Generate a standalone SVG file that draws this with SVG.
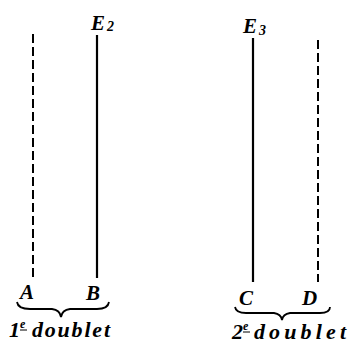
<svg xmlns="http://www.w3.org/2000/svg" width="355" height="346" viewBox="0 0 355 346">
<style>
.solid{stroke:#000;stroke-width:2.2;fill:none}
.dash{stroke:#000;stroke-width:2;fill:none;stroke-dasharray:9 4}
.brace{stroke:#000;stroke-width:1.8;fill:none}
.lbl{font-family:"Liberation Serif",serif;font-style:italic;font-weight:bold;font-size:21px;fill:#000}
.sub{font-family:"Liberation Serif",serif;font-style:italic;font-weight:bold;font-size:14px;fill:#000}
.cap{font-family:"Liberation Serif",serif;font-style:italic;font-weight:bold;font-size:22px;fill:#000}
.sup{font-family:"Liberation Serif",serif;font-style:italic;font-weight:bold;font-size:12px;fill:#000}
</style>
<rect width="355" height="346" fill="#fff"/>
<g id="lines">
<line id="A-line" class="dash" x1="33" y1="34" x2="33" y2="277"/>
<line id="B-line" class="solid" x1="97" y1="35" x2="97" y2="278"/>
<line id="C-line" class="solid" x1="253" y1="38" x2="253" y2="282"/>
<line id="D-line" class="dash" x1="318" y1="40" x2="318" y2="282"/>
</g>
<g id="E2"><text class="lbl" x="91" y="30">E</text><text class="sub" x="107" y="31">2</text></g>
<g id="E3"><text class="lbl" x="243" y="33">E</text><text class="sub" x="259" y="35">3</text></g>
<g id="A"><text class="lbl" x="20" y="299">A</text></g>
<g id="B"><text class="lbl" x="86" y="300">B</text></g>
<g id="C"><text class="lbl" x="239" y="305">C</text></g>
<g id="D"><text class="lbl" x="302" y="305">D</text></g>
<g id="doublet1">
<path class="brace" d="M17 302 Q18 309 30 309 L52 309 Q60 310 61 317 Q62 310 70 309 L97 309 Q108 309 109 302"/>
<text class="cap" x="9" y="337">1</text>
<text class="sup" x="20" y="328">e</text>
<line x1="20" y1="330" x2="27" y2="330" stroke="#000" stroke-width="1"/>
<text class="cap" x="32" y="337" textLength="78" lengthAdjust="spacing">doublet</text>
</g>
<g id="doublet2">
<path class="brace" d="M235 307 Q236 313 246 313 L274 313 Q281 314 282 320 Q283 314 290 313 L320 313 Q330 313 330 307"/>
<text class="cap" x="232" y="339">2</text>
<text class="sup" x="243" y="330">e</text>
<line x1="243" y1="332" x2="250" y2="332" stroke="#000" stroke-width="1"/>
<text class="cap" x="254" y="339" textLength="92" lengthAdjust="spacing">doublet</text>
</g>
</svg>
